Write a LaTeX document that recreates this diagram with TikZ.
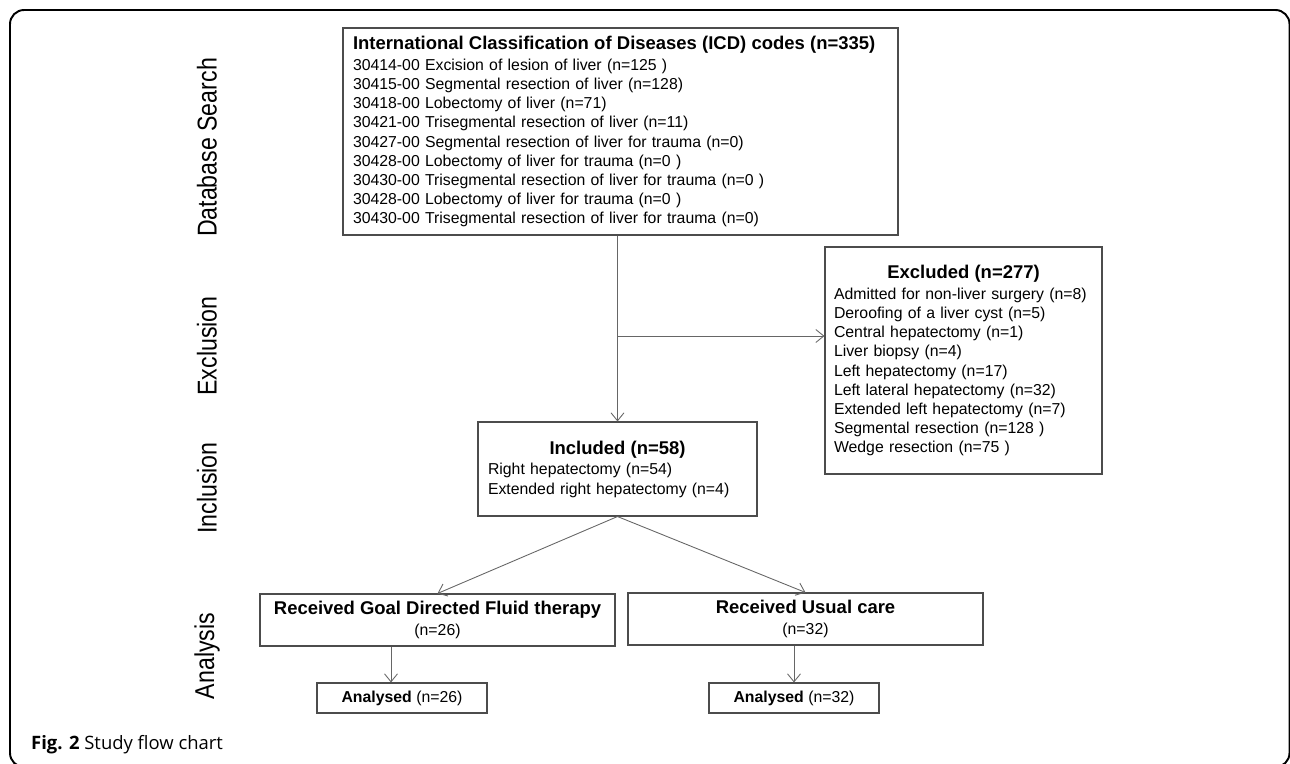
\documentclass[tikz,border=0pt]{standalone}
\usepackage{fontspec}
\setmainfont{Liberation Sans}
\newfontfamily\narrowfont[FakeStretch=0.85]{Liberation Sans}
\newfontfamily\capfont{Open Sans}
\usetikzlibrary{arrows.meta,shadows}

\begin{document}
\begin{tikzpicture}[
  font=\fontsize{9}{10.9}\selectfont,
  box/.style={draw=black!70, line width=0.6pt, fill=white, inner xsep=0.2cm, inner ysep=0pt,
    drop shadow={shadow xshift=0.6pt, shadow yshift=-0.6pt, opacity=0.25}},
  phase/.style={rotate=90, font=\narrowfont\fontsize{15.5}{18}\selectfont},
  link/.style={draw=black!60, line width=0.5pt, ->, >={Straight Barb[length=1.6mm,width=2.6mm]}}
]
  \useasboundingbox (0,0) rectangle (25.8,-15.26);
  \draw[line width=1.1pt, rounded corners=8pt] (0.2,-0.2) rectangle (25.79,-15.34);

  % phase labels on the left
  \node[phase] (dbs) at (4.14,-2.95) {Database Search};
  \node[phase] (exc) at (4.14,-6.92) {Exclusion};
  \node[phase] (inc) at (4.14,-9.76) {Inclusion};
  \node[phase] (ana) at (4.14,-13.12) {Analysis};

  \node[box, text width=10.7cm, minimum height=4.14cm, align=left] (icd) at (12.41,-2.63)
    {{\bfseries\fontsize{10.5}{12.6}\selectfont International Classification of Diseases (ICD) codes (n=335)}\\[1pt]
     30414-00 Excision of lesion of liver (n=125 )\\
     30415-00 Segmental resection of liver (n=128)\\
     30418-00 Lobectomy of liver (n=71)\\
     30421-00 Trisegmental resection of liver (n=11)\\
     30427-00 Segmental resection of liver for trauma (n=0)\\
     30428-00 Lobectomy of liver for trauma (n=0 )\\
     30430-00 Trisegmental resection of liver for trauma (n=0 )\\
     30428-00 Lobectomy of liver for trauma (n=0 )\\
     30430-00 Trisegmental resection of liver for trauma (n=0)};

  \node[box, inner xsep=0.18cm, text width=5.18cm, minimum height=4.54cm, align=left] (excl) at (19.27,-7.21)
    {\makebox[\linewidth]{\bfseries\fontsize{10.5}{12.6}\selectfont Excluded (n=277)}\\[1pt]
     Admitted for non-liver surgery (n=8)\\
     Deroofing of a liver cyst (n=5)\\
     Central hepatectomy (n=1)\\
     Liver biopsy (n=4)\\
     Left hepatectomy (n=17)\\
     Left lateral hepatectomy (n=32)\\
     Extended left hepatectomy (n=7)\\
     Segmental resection (n=128 )\\
     Wedge resection (n=75 )};

  \node[box, text width=5.18cm, minimum height=1.88cm, align=left] (incl) at (12.35,-9.38)
    {\makebox[\linewidth]{\bfseries\fontsize{10.5}{12.6}\selectfont Included (n=58)}\\[1pt]
     Right hepatectomy (n=54)\\
     Extended right hepatectomy (n=4)};

  \node[box, minimum width=7.1cm, minimum height=1.04cm, align=center] (gdft) at (8.75,-12.4)
    {{\bfseries\fontsize{10.5}{12.6}\selectfont Received Goal Directed Fluid therapy}\\[1pt] (n=26)};
  \node[box, minimum width=7.1cm, minimum height=1.04cm, align=center] (usual) at (16.11,-12.38)
    {{\bfseries\fontsize{10.5}{12.6}\selectfont Received Usual care}\\[1pt] (n=32)};

  \node[box, minimum width=3.4cm, minimum height=0.6cm] (anlL) at (8.04,-13.96) {\textbf{Analysed} (n=26)};
  \node[box, minimum width=3.4cm, minimum height=0.6cm] (anlR) at (15.88,-13.96) {\textbf{Analysed} (n=32)};

  \coordinate (split) at (12.35,-6.72);
  \draw[link] (incl.north |- icd.south) -- (incl.north);
  \draw[link] (split) -- (split -| excl.west);
  \draw[link] (incl.south) -- (gdft.north);
  \draw[link] (incl.south) -- (usual.north);
  \draw[link] ([xshift=-0.22cm]anlL.north |- gdft.south) -- ([xshift=-0.22cm]anlL.north);
  \draw[link] (anlR.north |- usual.south) -- (anlR.north);

  \node[anchor=west, font=\capfont\fontsize{10.5}{12.6}\selectfont] (cap) at (0.5,-14.9)
    {\textbf{Fig. 2} Study flow chart};
\end{tikzpicture}
\end{document}
